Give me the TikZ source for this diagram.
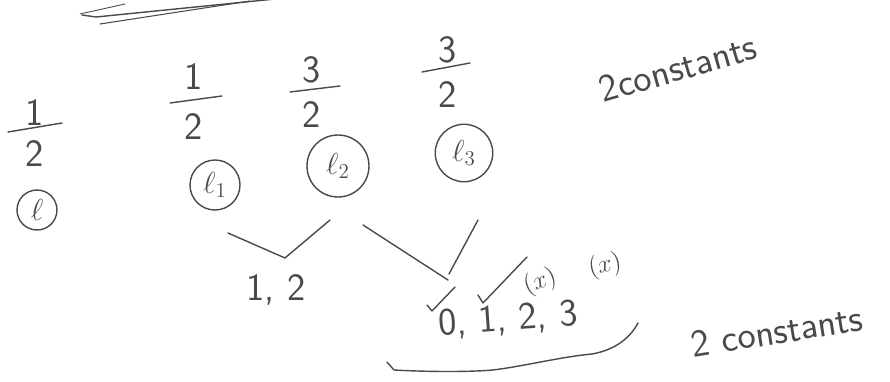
\documentclass[tikz,border=0pt]{standalone}
\usetikzlibrary{positioning}
\definecolor{Pencil}{HTML}{4A4A4A}

\begin{document}
\begin{tikzpicture}[x=0.02cm,y=-0.02cm,
  pencil/.style={draw=Pencil,line width=0.8pt,line cap=round,line join=round},
  digit/.style={text=Pencil,font=\sffamily\fontsize{22}{24}\selectfont,inner sep=1pt},
  loopnode/.style={circle,draw=Pencil,line width=0.8pt,text=Pencil,
    font=\fontsize{18}{20}\selectfont,inner sep=0pt},
  note/.style={text=Pencil,font=\sffamily\fontsize{22}{24}\selectfont,inner sep=1pt},
  tag/.style={text=Pencil,font=\fontsize{15}{17}\selectfont,inner sep=0pt}]
  \useasboundingbox (0,0) rectangle (890,382);
  % Stroke along the top
  \draw[pencil,line width=0.5pt] (80,14) -- (125,4);
  \draw[pencil] (82,15) -- (96,17) -- (285,-2);
  \draw[pencil,line width=0.6pt] (100,24) -- (250,1);
  % Fractions
  \node[digit] (numA) at (35,113) {1};
  \node[digit,on grid,below=0.82cm of numA] (denA) {2};
  \draw[pencil] (8,132) -- (62,123);
  \node[digit] (numB) at (194,77) {1};
  \node[digit,on grid,below=1.0cm of numB] (denB) {2};
  \draw[pencil] (170,103) -- (222,96);
  \node[digit] (numC) at (312,70) {3};
  \node[digit,on grid,below=0.9cm of numC] (denC) {2};
  \draw[pencil] (290,92) -- (340,86);
  \node[digit] (numD) at (448,50) {3};
  \node[digit,on grid,below=0.9cm of numD] (denD) {2};
  \draw[pencil] (422,72) -- (470,63);
  % Circled loops
  \node[loopnode,minimum size=0.8cm] (lA) at (37,210) {$\ell$};
  \node[loopnode,minimum size=1.0cm] (lB) at (215,185) {$\ell_1$};
  \node[loopnode,minimum size=1.24cm] (lC) at (338,166) {$\ell_2$};
  \node[loopnode,minimum size=1.15cm] (lD) at (464,153) {$\ell_3$};
  % Constants
  \node[note,rotate=16] (topnote) at (678,68) {2constants};
  \node[note,rotate=9] (botnote) at (777,331) {2 constants};
  % Ticks
  \draw[pencil] (228,233) -- (285,258) -- (330,220);
  \draw[pencil] (363,225) -- (448,280);
  \draw[pencil] (449,274) -- (478,220);
  \draw[pencil] (427,305) -- (432,311) -- (455,287);
  \draw[pencil] (478,295) -- (483,303) -- (527,257);
  % Values
  \node[digit] (valsA) at (276,290) {1,\ 2};
  \node[digit,rotate=4] (valsB) at (508,320) {0,\ 1,\ 2,\ 3};
  \node[tag,rotate=20] (xA) at (540,282) {$(x)$};
  \node[tag,rotate=12] (xB) at (605,266) {$(x)$};
  % Brace under the values
  \draw[pencil] (387,362) -- (394,370) .. controls (430,372) and (470,372) .. (493,370)
    .. controls (525,366) and (560,357) .. (592,354)
    .. controls (615,350) and (630,338) .. (638,323);
\end{tikzpicture}
\end{document}
